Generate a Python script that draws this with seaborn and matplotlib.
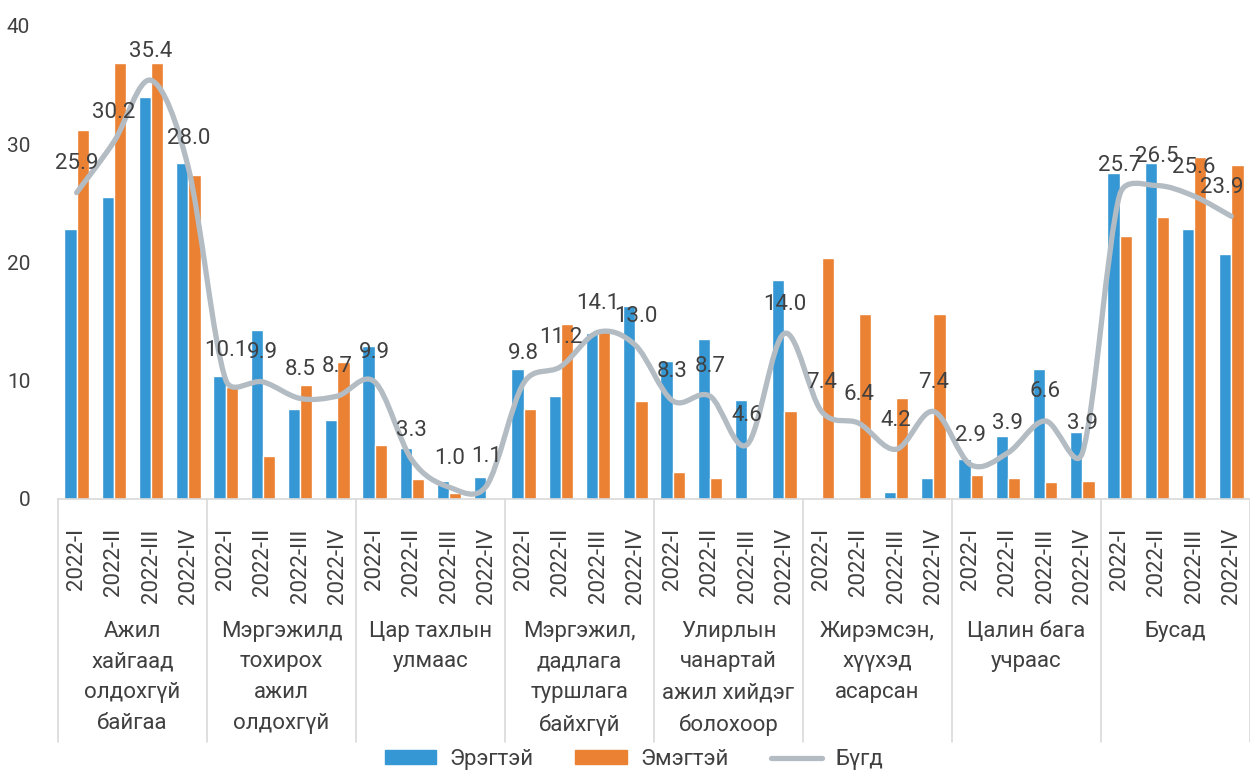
import numpy as np
import pandas as pd
import matplotlib
matplotlib.use("Agg")
import matplotlib.pyplot as plt
import seaborn as sns
from matplotlib.path import Path
from matplotlib.patches import PathPatch, Patch
from matplotlib.lines import Line2D
import matplotlib.transforms as mtransforms

# ---------------------------------------------------------------
# Données
# ---------------------------------------------------------------
groupes = [
    "Ажил\nхайгаад\nолдохгүй\nбайгаа",
    "Мэргэжилд\nтохирох\nажил\nолдохгүй",
    "Цар тахлын\nулмаас",
    "Мэргэжил,\nдадлага\nтуршлага\nбайхгүй",
    "Улирлын\nчанартай\nажил хийдэг\nболохоор",
    "Жирэмсэн,\nхүүхэд\nасарсан",
    "Цалин бага\nучраас",
    "Бусад",
]
trimestres = ["2022-I", "2022-II", "2022-III", "2022-IV"]

eregtei = [22.8, 25.5, 34.0, 28.4, 10.4, 14.3, 7.6, 6.7,
           12.9, 4.3, 1.5, 1.9, 11.0, 8.7, 14.0, 16.3,
           11.7, 13.5, 8.4, 18.5, 0.0, 0.0, 0.6, 1.8,
           3.4, 5.3, 11.0, 5.7, 27.6, 28.4, 22.8, 20.7]
emegtei = [31.2, 36.9, 36.9, 27.4, 9.5, 3.6, 9.6, 11.6,
           4.6, 1.7, 0.5, 0.0, 7.6, 14.8, 14.2, 8.3,
           2.3, 1.8, 0.0, 7.4, 20.4, 15.6, 8.5, 15.6,
           2.0, 1.8, 1.4, 1.5, 22.2, 23.8, 28.9, 28.2]
bugd = [25.9, 30.2, 35.4, 28.0, 10.1, 9.9, 8.5, 8.7,
        9.9, 3.3, 1.0, 1.1, 9.8, 11.2, 14.1, 13.0,
        8.3, 8.7, 4.6, 14.0, 7.4, 6.4, 4.2, 7.4,
        2.9, 3.9, 6.6, 3.9, 25.7, 26.5, 25.6, 23.9]

bleu = "#3597D3"
orange = "#EA8133"
gris = "#B3BBC3"
txt = "#404040"

n = len(bugd)
pos = list(range(n))
df = pd.DataFrame({
    "pos": pos * 2,
    "valeur": eregtei + emegtei,
    "sexe": ["Эрэгтэй"] * n + ["Эмэгтэй"] * n,
})

sns.set_style("white")
plt.rcParams["font.family"] = ["Roboto", "DejaVu Sans"]

fig = plt.figure(figsize=(12.5, 7.73), dpi=100)
ax = fig.add_axes([0.0464, 0.3545, 0.9536, 0.612])

sns.barplot(data=df, x="pos", y="valeur", hue="sexe", order=pos,
            hue_order=["Эрэгтэй", "Эмэгтэй"], palette=[bleu, orange],
            width=0.66, gap=0, saturation=1, legend=False, ax=ax)

ax.set_xlim(-0.5, n - 0.5)
ax.set_ylim(0, 40)

# courbe lissée façon Excel (Bezier, tangentes limitées à la moitié du segment)
P = ax.transData.transform(np.column_stack([np.arange(n), bugd]))
inv = ax.transData.inverted()
verts = [tuple(inv.transform(P[0]))]
codes = [Path.MOVETO]
for i in range(n - 1):
    p0 = P[i - 1] if i > 0 else P[i]
    p1, p2 = P[i], P[i + 1]
    p3 = P[i + 2] if i + 2 < n else P[i + 1]
    d02 = np.hypot(*(p2 - p0))
    d12 = np.hypot(*(p2 - p1))
    d13 = np.hypot(*(p3 - p1))
    f1 = 1 / 6 if d02 / 6 < d12 / 2 else d12 / (2 * d02)
    f2 = 1 / 6 if d13 / 6 < d12 / 2 else d12 / (2 * d13)
    b1 = p1 + (p2 - p0) * f1
    b2 = p2 - (p3 - p1) * f2
    verts += [tuple(inv.transform(b1)), tuple(inv.transform(b2)),
              tuple(inv.transform(p2))]
    codes += [Path.CURVE4] * 3
ax.add_patch(PathPatch(Path(verts, codes), facecolor="none", edgecolor=gris,
                       lw=3.8, capstyle="round", joinstyle="round", zorder=3))

for i, v in enumerate(bugd):
    dx = -7 if i == n - 1 else 0
    ax.annotate(f"{v:.1f}", (i, v), xytext=(dx, 17), textcoords="offset points",
                ha="center", va="baseline", fontsize=16, color=txt, zorder=4)

ax.set_yticks([0, 10, 20, 30, 40])
ax.set_xticks(pos)
ax.set_xticklabels(trimestres * len(groupes), rotation=90, fontsize=16, color=txt)
ax.tick_params(axis="y", labelsize=15, labelcolor=txt, length=0, pad=20)
ax.tick_params(axis="x", length=0, pad=21)
ax.set_xlabel("")
ax.set_ylabel("")
for s in ["top", "right", "left"]:
    ax.spines[s].set_visible(False)
ax.spines["bottom"].set_color("#D9D9D9")
ax.spines["bottom"].set_linewidth(1.2)

# séparateurs et libellés des groupes
trans = mtransforms.blended_transform_factory(ax.transData, ax.transAxes)
for k in range(len(groupes) + 1):
    ax.plot([4 * k - 0.5, 4 * k - 0.5], [0, -0.514], transform=trans,
            color="#D9D9D9", lw=1.2, clip_on=False)
for k, g in enumerate(groupes):
    ax.text(4 * k + 1.5, -0.257, g, transform=trans, ha="center", va="top",
            fontsize=16, color=txt, linespacing=1.62)

handles = [Patch(color=bleu, label="Эрэгтэй"),
           Patch(color=orange, label="Эмэгтэй"),
           Line2D([], [], color=gris, lw=3.8, label="Бүгд")]
fig.legend(handles=handles, loc="lower center", bbox_to_anchor=(0.507, -0.022),
           ncol=3, frameon=False, fontsize=16, labelcolor=txt,
           handlelength=2.3, handleheight=0.55, handletextpad=0.6,
           columnspacing=1.9)

fig.savefig("out.png", dpi=100)
